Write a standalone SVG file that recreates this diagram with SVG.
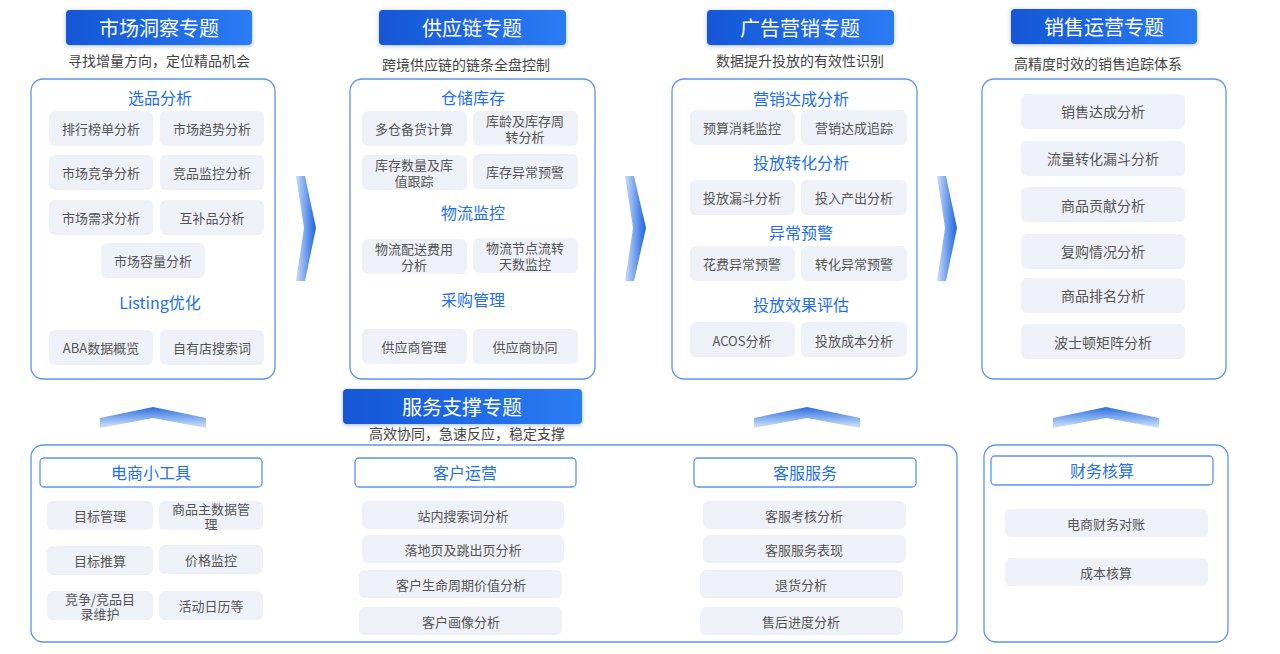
<svg xmlns="http://www.w3.org/2000/svg" width="1280" height="654" viewBox="0 0 1280 654">
<defs>
<linearGradient id="bg" x1="0" y1="0" x2="1" y2="0"><stop offset="0" stop-color="#1456d6"/><stop offset="1" stop-color="#2b7cf5"/></linearGradient>
<linearGradient id="chev" x1="0" y1="0" x2="1" y2="0"><stop offset="0" stop-color="#c8dcfa"/><stop offset="1" stop-color="#1a62e0"/></linearGradient>
<linearGradient id="up" x1="0" y1="0" x2="0" y2="1"><stop offset="0" stop-color="#2a6fe0"/><stop offset="1" stop-color="#d6e5fb"/></linearGradient>
<filter id="sh" x="-10%" y="-20%" width="120%" height="150%"><feDropShadow dx="0" dy="1" stdDeviation="2" flood-color="#0a3c9a" flood-opacity="0.35"/></filter>
</defs>
<style>
text{font-family:"Noto Sans CJK SC","Liberation Sans",sans-serif;text-anchor:middle;dominant-baseline:central}
.badge{fill:url(#bg);filter:url(#sh)}
.bt{fill:#fff;font-size:20px}
.sub{fill:#444;font-size:14px}
.panel{fill:#fff;stroke:#5b95f0;stroke-width:1.3}
.sec{fill:#1f6ff0;font-size:16px}
.item{fill:#eef1f8}
.it{fill:#555;font-size:13px}
.hb{fill:#fff;stroke:#5b95f0;stroke-width:1.3}
.hs{fill:#1f6ff0;font-size:16px}
</style>
<rect width="1280" height="654" fill="#fff"/>
<g id="connectors">
<path d="M296,176 L305,176 L316,228 L305,281 L296,281 L304,228Z" fill="url(#chev)"/>
<path d="M625,176 L634,176 L646,228 L634,281 L625,281 L633,228Z" fill="url(#chev)"/>
<path d="M937,176 L946,176 L957,228 L946,281 L937,281 L945,228Z" fill="url(#chev)"/>
<path d="M100,418 L153,407 L206,418 L206,428 L153,418 L100,428Z" fill="url(#up)"/>
<path d="M754,418 L807,407 L860,418 L860,428 L807,418 L754,428Z" fill="url(#up)"/>
<path d="M1053,418 L1106,407 L1159,418 L1159,428 L1106,418 L1053,428Z" fill="url(#up)"/>
</g>
<g id="market">
<rect class="badge" x="66" y="10" width="186" height="35" rx="4"/><text class="bt" x="159" y="27">市场洞察专题</text>
<text class="sub" x="159" y="60">寻找增量方向，定位精品机会</text>
<rect class="panel" x="31" y="79" width="244" height="300" rx="12"/>
<text class="sec" x="160" y="97">选品分析</text>
<rect class="item" x="49" y="111" width="104" height="35" rx="6"/><text class="it" x="101" y="128">排行榜单分析</text>
<rect class="item" x="160" y="111" width="104" height="35" rx="6"/><text class="it" x="212" y="128">市场趋势分析</text>
<rect class="item" x="49" y="155" width="104" height="35" rx="6"/><text class="it" x="101" y="172">市场竞争分析</text>
<rect class="item" x="160" y="155" width="104" height="35" rx="6"/><text class="it" x="212" y="172">竞品监控分析</text>
<rect class="item" x="49" y="200" width="104" height="35" rx="6"/><text class="it" x="101" y="217">市场需求分析</text>
<rect class="item" x="160" y="200" width="104" height="35" rx="6"/><text class="it" x="212" y="217">互补品分析</text>
<rect class="item" x="101" y="243" width="104" height="35" rx="6"/><text class="it" x="153" y="260">市场容量分析</text>
<text class="sec" x="160" y="302">Listing优化</text>
<rect class="item" x="49" y="330" width="104" height="35" rx="6"/><text class="it" x="101" y="347">ABA数据概览</text>
<rect class="item" x="160" y="330" width="104" height="35" rx="6"/><text class="it" x="212" y="347">自有店搜索词</text>
</g>
<g id="supply">
<rect class="badge" x="379" y="10" width="187" height="35" rx="4"/><text class="bt" x="472" y="27">供应链专题</text>
<text class="sub" x="466" y="64">跨境供应链的链条全盘控制</text>
<rect class="panel" x="350" y="79" width="245" height="300" rx="12"/>
<text class="sec" x="473" y="97">仓储库存</text>
<rect class="item" x="362" y="111" width="105" height="35" rx="6"/><text class="it" x="414" y="128">多仓备货计算</text>
<rect class="item" x="473" y="111" width="105" height="35" rx="6"/><text class="it" x="525" y="120">库龄及库存周</text><text class="it" x="525" y="136">转分析</text>
<rect class="item" x="362" y="155" width="105" height="35" rx="6"/><text class="it" x="414" y="164">库存数量及库</text><text class="it" x="414" y="180">值跟踪</text>
<rect class="item" x="473" y="154" width="105" height="35" rx="6"/><text class="it" x="525" y="171">库存异常预警</text>
<text class="sec" x="473" y="212">物流监控</text>
<rect class="item" x="362" y="239" width="105" height="35" rx="6"/><text class="it" x="414" y="248">物流配送费用</text><text class="it" x="414" y="264">分析</text>
<rect class="item" x="473" y="238" width="105" height="35" rx="6"/><text class="it" x="525" y="247">物流节点流转</text><text class="it" x="525" y="263">天数监控</text>
<text class="sec" x="473" y="299">采购管理</text>
<rect class="item" x="362" y="329" width="105" height="35" rx="6"/><text class="it" x="414" y="346">供应商管理</text>
<rect class="item" x="473" y="329" width="105" height="35" rx="6"/><text class="it" x="525" y="346">供应商协同</text>
</g>
<g id="ads">
<rect class="badge" x="707" y="10" width="187" height="35" rx="4"/><text class="bt" x="800" y="27">广告营销专题</text>
<text class="sub" x="800" y="60">数据提升投放的有效性识别</text>
<rect class="panel" x="672" y="79" width="245" height="300" rx="12"/>
<text class="sec" x="801" y="98">营销达成分析</text>
<rect class="item" x="690" y="110" width="105" height="35" rx="6"/><text class="it" x="742" y="127">预算消耗监控</text>
<rect class="item" x="801" y="110" width="106" height="35" rx="6"/><text class="it" x="854" y="127">营销达成追踪</text>
<text class="sec" x="801" y="162">投放转化分析</text>
<rect class="item" x="690" y="180" width="105" height="35" rx="6"/><text class="it" x="742" y="197">投放漏斗分析</text>
<rect class="item" x="801" y="180" width="106" height="35" rx="6"/><text class="it" x="854" y="197">投入产出分析</text>
<text class="sec" x="801" y="232">异常预警</text>
<rect class="item" x="690" y="246" width="105" height="35" rx="6"/><text class="it" x="742" y="263">花费异常预警</text>
<rect class="item" x="801" y="246" width="106" height="35" rx="6"/><text class="it" x="854" y="263">转化异常预警</text>
<text class="sec" x="801" y="304">投放效果评估</text>
<rect class="item" x="690" y="322" width="105" height="35" rx="6"/><text class="it" x="742" y="340">ACOS分析</text>
<rect class="item" x="801" y="322" width="106" height="35" rx="6"/><text class="it" x="854" y="340">投放成本分析</text>
</g>
<g id="sales">
<rect class="badge" x="1011" y="9" width="186" height="35" rx="4"/><text class="bt" x="1104" y="26">销售运营专题</text>
<text class="sub" x="1098" y="63">高精度时效的销售追踪体系</text>
<rect class="panel" x="982" y="79" width="244" height="300" rx="12"/>
<rect class="item" x="1021" y="94" width="164" height="35" rx="6"/><text class="it" x="1103" y="111" style="font-size:14px">销售达成分析</text>
<rect class="item" x="1021" y="141" width="164" height="35" rx="6"/><text class="it" x="1103" y="158" style="font-size:14px">流量转化漏斗分析</text>
<rect class="item" x="1021" y="187" width="164" height="35" rx="6"/><text class="it" x="1103" y="205" style="font-size:14px">商品贡献分析</text>
<rect class="item" x="1021" y="234" width="164" height="35" rx="6"/><text class="it" x="1103" y="251" style="font-size:14px">复购情况分析</text>
<rect class="item" x="1021" y="278" width="164" height="35" rx="6"/><text class="it" x="1103" y="295" style="font-size:14px">商品排名分析</text>
<rect class="item" x="1021" y="324" width="164" height="35" rx="6"/><text class="it" x="1103" y="342" style="font-size:14px">波士顿矩阵分析</text>
</g>
<g id="service">
<rect class="badge" x="343" y="389" width="239" height="35" rx="4"/><text class="bt" x="462" y="406">服务支撑专题</text>
<text class="sub" x="467" y="433">高效协同，急速反应，稳定支撑</text>
<rect class="panel" x="31" y="445" width="926" height="197" rx="12"/>
<rect class="hb" x="40" y="458" width="222" height="29" rx="4"/><text class="hs" x="151" y="472">电商小工具</text>
<rect class="item" x="47" y="501" width="106" height="29" rx="6"/><text class="it" x="100" y="515">目标管理</text>
<rect class="item" x="159" y="501" width="104" height="29" rx="6"/><text class="it" x="211" y="508">商品主数据管</text><text class="it" x="211" y="523">理</text>
<rect class="item" x="47" y="546" width="106" height="29" rx="6"/><text class="it" x="100" y="560">目标推算</text>
<rect class="item" x="159" y="545" width="104" height="29" rx="6"/><text class="it" x="211" y="559">价格监控</text>
<rect class="item" x="47" y="591" width="106" height="29" rx="6"/><text class="it" x="100" y="598">竞争/竞品目</text><text class="it" x="100" y="613">录维护</text>
<rect class="item" x="159" y="591" width="104" height="29" rx="6"/><text class="it" x="211" y="605">活动日历等</text>
<rect class="hb" x="355" y="458" width="221" height="29" rx="4"/><text class="hs" x="465" y="472">客户运营</text>
<rect class="item" x="362" y="501" width="202" height="28" rx="6"/><text class="it" x="463" y="515">站内搜索词分析</text>
<rect class="item" x="362" y="535" width="202" height="28" rx="6"/><text class="it" x="463" y="549">落地页及跳出页分析</text>
<rect class="item" x="359" y="570" width="203" height="28" rx="6"/><text class="it" x="461" y="584">客户生命周期价值分析</text>
<rect class="item" x="359" y="607" width="203" height="28" rx="6"/><text class="it" x="461" y="621">客户画像分析</text>
<rect class="hb" x="694" y="458" width="222" height="29" rx="4"/><text class="hs" x="805" y="472">客服服务</text>
<rect class="item" x="703" y="501" width="203" height="28" rx="6"/><text class="it" x="804" y="515">客服考核分析</text>
<rect class="item" x="703" y="535" width="203" height="28" rx="6"/><text class="it" x="804" y="549">客服服务表现</text>
<rect class="item" x="700" y="570" width="203" height="28" rx="6"/><text class="it" x="801" y="584">退货分析</text>
<rect class="item" x="700" y="607" width="203" height="28" rx="6"/><text class="it" x="801" y="621">售后进度分析</text>
</g>
<g id="finance">
<rect class="panel" x="984" y="445" width="244" height="197" rx="12"/>
<rect class="hb" x="991" y="456" width="222" height="29" rx="4"/><text class="hs" x="1102" y="470">财务核算</text>
<rect class="item" x="1005" y="509" width="203" height="28" rx="6"/><text class="it" x="1106" y="523">电商财务对账</text>
<rect class="item" x="1005" y="558" width="203" height="28" rx="6"/><text class="it" x="1106" y="572">成本核算</text>
</g>
</svg>
